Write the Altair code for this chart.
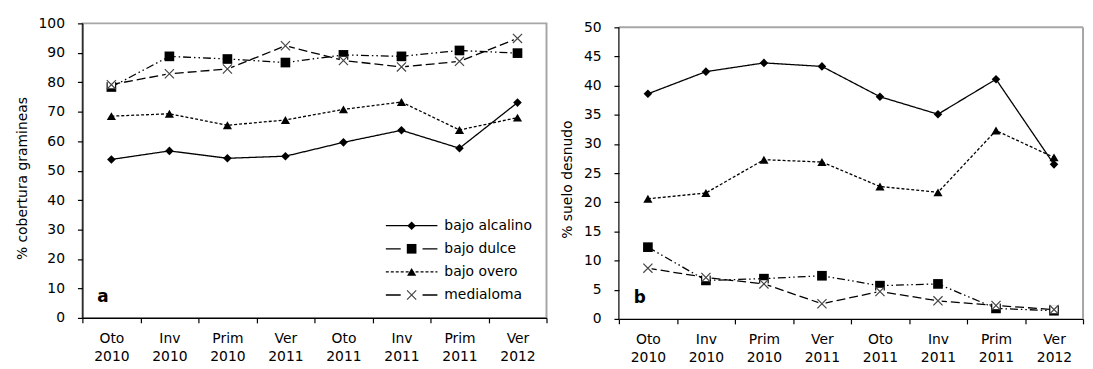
import altair as alt
import pandas as pd

seasons = ["Oto 2010", "Inv 2010", "Prim 2010", "Ver 2011",
           "Oto 2011", "Inv 2011", "Prim 2011", "Ver 2012"]
series = ["bajo alcalino", "bajo dulce", "bajo overo", "medialoma"]

# panel a: % cobertura gramineas
cob_alcalino = [53.8, 56.7, 54.2, 54.9, 59.6, 63.7, 57.6, 73.1]
cob_dulce = [78.4, 88.8, 87.9, 86.7, 89.3, 88.8, 90.8, 89.9]
cob_overo = [68.5, 69.3, 65.4, 67.2, 70.8, 73.3, 63.8, 68.0]
cob_medialoma = [79.2, 82.9, 84.5, 92.4, 87.4, 85.2, 87.1, 94.9]

# panel b: % suelo desnudo
suelo_alcalino = [38.6, 42.4, 43.9, 43.3, 38.1, 35.1, 41.1, 26.5]
suelo_dulce = [12.3, 6.6, 6.9, 7.4, 5.7, 6.0, 1.8, 1.4]
suelo_overo = [20.6, 21.6, 27.3, 26.9, 22.7, 21.7, 32.3, 27.7]
suelo_medialoma = [8.7, 7.1, 6.0, 2.6, 4.7, 3.1, 2.3, 1.6]

FONT = "DejaVu Sans"
dashes = [[1, 0], [8, 3, 1.5, 3, 1.5, 3], [3, 2], [9, 4]]
legend_dashes = [[1, 0], [15, 22], [3, 2], [15, 22]]
X_PATH = "M-1,-1L1,1M-1,1L1,-1"
BORDER = "#a6a6a6"


def make_df(vals):
    rows = []
    for s, v in zip(series, vals):
        for season, val in zip(seasons, v):
            rows.append({"season": season, "series": s, "value": val})
    return pd.DataFrame(rows)


def markers(base):
    return [
        base.transform_filter(alt.datum.series == series[0]).mark_point(
            shape="diamond", filled=True, color="#000", size=75, opacity=1),
        base.transform_filter(alt.datum.series == series[1]).mark_point(
            shape="square", filled=True, color="#000", size=95, opacity=1),
        base.transform_filter(alt.datum.series == series[2]).mark_point(
            shape="triangle-up", filled=True, color="#000", size=85, opacity=1),
        base.transform_filter(alt.datum.series == series[3]).mark_point(
            shape="square", filled=True, color="#fff", size=55, opacity=1),
        base.transform_filter(alt.datum.series == series[3]).mark_point(
            shape=X_PATH, filled=False, color="#444", size=85, strokeWidth=1.2, opacity=1),
    ]


def panel(vals, ytitle, ymax, ystep, w, h, letter, legend=False, domain_top=None):
    df = make_df(vals)
    top = domain_top if domain_top else ymax
    yscale = alt.Scale(domain=[0, top], nice=False, zero=True)
    yaxis = alt.Axis(title=ytitle, values=list(range(0, ymax + 1, ystep)),
                     titleY=156 + (h - 297), labelPadding=13, titlePadding=9,
                     domain=domain_top is None)
    base = alt.Chart(df).encode(
        x=alt.X("season:N", sort=seasons,
                scale=alt.Scale(paddingInner=0, paddingOuter=0),
                axis=alt.Axis(title=None, labelExpr="split(datum.label, ' ')",
                              labelAngle=0, tickBand="extent", labelLineHeight=18,
                              labelPadding=9)),
        y=alt.Y("value:Q", scale=yscale, axis=yaxis),
    )
    lines = base.mark_line(color="#000", strokeWidth=1.3).encode(
        strokeDash=alt.StrokeDash("series:N",
                                  scale=alt.Scale(domain=series, range=dashes),
                                  legend=None))
    layers = [lines] + markers(base)

    if domain_top:
        frame = alt.Chart(pd.DataFrame({"k": [0]}))
        layers.append(frame.mark_rule(color=BORDER, strokeWidth=2).encode(
            x=alt.value(0), x2=alt.value(w),
            y=alt.YDatum(ymax, scale=yscale, axis=yaxis)))
        layers.append(frame.mark_rule(color=BORDER, strokeWidth=2).encode(
            x=alt.value(w), y=alt.YDatum(0, scale=yscale, axis=yaxis),
            y2=alt.Y2Datum(ymax)))
        layers.append(frame.mark_rule(color="#000", strokeWidth=1.2).encode(
            x=alt.value(0), y=alt.YDatum(0, scale=yscale, axis=yaxis),
            y2=alt.Y2Datum(ymax)))

    lab = alt.Chart(pd.DataFrame({"t": [letter]})).mark_text(
        align="left", baseline="alphabetic", fontSize=17, fontWeight="bold",
        font=FONT, color="#000").encode(
        text="t:N", x=alt.value(15), y=alt.value(h - 16))
    layers.append(lab)

    if legend:
        lx0, lx1, lm, lt = 306, 358, 332, 365
        shapes = ["diamond", "square", "triangle-up", None]
        for i, s in enumerate(series):
            yy = 204 + 23.3 * i
            d = pd.DataFrame({"series": [s]})
            layers.append(alt.Chart(d).mark_rule(
                color="#000", strokeWidth=1.3, strokeDash=legend_dashes[i]).encode(
                x=alt.value(lx0), x2=alt.value(lx1), y=alt.value(yy)))
            if shapes[i]:
                layers.append(alt.Chart(d).mark_point(
                    shape=shapes[i], filled=True, color="#000",
                    size=[75, 95, 85][i], opacity=1).encode(
                    x=alt.value(lm), y=alt.value(yy)))
            else:
                layers.append(alt.Chart(d).mark_point(
                    shape="square", filled=True, color="#fff", size=55, opacity=1).encode(
                    x=alt.value(lm), y=alt.value(yy)))
                layers.append(alt.Chart(d).mark_point(
                    shape=X_PATH, filled=False, color="#444", size=85,
                    strokeWidth=1.2, opacity=1).encode(
                    x=alt.value(lm), y=alt.value(yy)))
            layers.append(alt.Chart(d).mark_text(
                align="left", baseline="middle", fontSize=14, font=FONT,
                color="#000").encode(
                text="series:N", x=alt.value(lt), y=alt.value(yy)))

    props = dict(width=w, height=h)
    if domain_top:
        props["view"] = alt.ViewBackground(stroke="transparent")
    return alt.layer(*layers).properties(**props)


left = panel([cob_alcalino, cob_dulce, cob_overo, cob_medialoma],
             "% cobertura gramineas", 100, 10, 468, 297, "a", legend=True)
right = panel([suelo_alcalino, suelo_dulce, suelo_overo, suelo_medialoma],
              "% suelo desnudo", 50, 5, 468, 298, "b", domain_top=50.68)

chart = alt.hconcat(left, right, spacing=11).properties(
    padding={"left": 6, "top": 6, "right": 0, "bottom": 0}
).configure_view(
    stroke=BORDER, strokeWidth=2
).configure_axis(
    labelFont=FONT, titleFont=FONT, labelFontSize=14, titleFontSize=14,
    titleFontWeight="normal", labelColor="#000", titleColor="#000",
    domainColor="#000", tickColor="#000", tickSize=5, grid=False,
    domainWidth=1.2, tickWidth=1.2
)

chart.save("out.html", embed_options={"renderer": "svg", "actions": False})
